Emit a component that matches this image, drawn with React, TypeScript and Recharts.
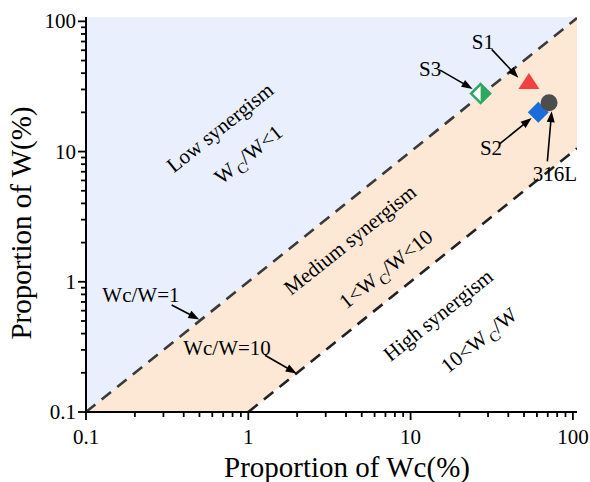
import React from 'react';
import { ComposedChart, XAxis, YAxis, Line, Area, Scatter, ReferenceLine } from 'recharts';

const FONT = '"Liberation Serif", "Times New Roman", Times, serif';

// axis ranges and ticks
const xDomain: [number, number] = [0.1, 106];
const yDomain: [number, number] = [0.1, 108];
const majorTicks = [0.1, 1, 10, 100];
const logTicks = [
  0.1, 0.2, 0.3, 0.4, 0.5, 0.6, 0.7, 0.8, 0.9,
  1, 2, 3, 4, 5, 6, 7, 8, 9,
  10, 20, 30, 40, 50, 60, 70, 80, 90,
  100,
];
const tickLabels: Record<number, string> = { 0.1: '0.1', 1: '1', 10: '10', 100: '100' };

// region boundaries (Wc/W = 1 and Wc/W = 10)
const lowBand = [
  { x: 0.1, lo: 0.1, hi: 108 },
  { x: 106, lo: 106, hi: 108 },
];
const mediumBand = [
  { x: 0.1, lo: 0.1, hi: 0.1 },
  { x: 1, lo: 0.1, hi: 1 },
  { x: 106, lo: 10.6, hi: 106 },
];
const ratio1Line = [
  { x: 0.1, y: 0.1 },
  { x: 106, y: 106 },
];
const ratio10Line = [
  { x: 1, y: 0.1 },
  { x: 106, y: 10.6 },
];

// samples
const sampleNames = ['S1', 'S2', 'S3', '316L'];
const wcValues = [53.6, 61.2, 27.0, 71.3];
const wValues = [34.5, 20.0, 27.9, 23.7];
const samples = sampleNames.map((name, i) => ({ name, x: wcValues[i], y: wValues[i] }));

// annotation labels and arrows (data coordinates)
const annotationTexts = ['S1', 'S3', 'S2', '316L', 'Wc/W=1', 'Wc/W=10'];
const annotationTextX = [27.9, 13.2, 31.3, 77.6, 0.218, 0.739];
const annotationTextY = [68.9, 42.7, 10.7, 6.76, 0.791, 0.309];
const arrowFromX = [31.6, 15.2, 35.5, 69.6, 0.337, 1.267];
const arrowFromY = [60.9, 42.2, 11.5, 8.4, 0.663, 0.273];
const arrowToX = [46.1, 24.1, 55.7, 74.0, 0.499, 1.987];
const arrowToY = [36.9, 30.3, 18.1, 20.4, 0.514, 0.1975];

// region captions
const regionCaptions = [
  { x: 0.67, y: 15.3, kind: 'plain', text: 'Low synergism' },
  { x: 1.0, y: 9.5, kind: 'ratio', pre: 'W', post: '/W<1' },
  { x: 4.24, y: 2.1, kind: 'plain', text: 'Medium synergism' },
  { x: 7.05, y: 1.25, kind: 'ratio', pre: '1<W', post: '/W<10' },
  { x: 14.8, y: 0.555, kind: 'plain', text: 'High synergism' },
  { x: 26.4, y: 0.356, kind: 'ratio', pre: '10<W', post: '/W' },
];

const annotationLabels = annotationTexts.map((t, i) => ({
  x: annotationTextX[i],
  y: annotationTextY[i],
  kind: 'label',
  text: t,
}));
const textItems = [...regionCaptions, ...annotationLabels];

const ANGLE = -38.67;

const TextShape = (props: any) => {
  const { cx, cy, payload } = props;
  if (cx == null || cy == null) return <g />;
  if (payload.kind === 'label') {
    return (
      <text x={cx} y={cy + 7} textAnchor="middle" fontFamily={FONT} fontSize={21} fill="#000">
        {payload.text}
      </text>
    );
  }
  if (payload.kind === 'plain') {
    return (
      <text
        x={cx}
        y={cy + 7}
        textAnchor="middle"
        fontFamily={FONT}
        fontSize={21}
        fill="#000"
        transform={`rotate(${ANGLE}, ${cx}, ${cy})`}
      >
        {payload.text}
      </text>
    );
  }
  return (
    <text
      x={cx}
      y={cy + 7}
      textAnchor="middle"
      fontFamily={FONT}
      fontSize={21}
      fill="#000"
      transform={`rotate(${ANGLE}, ${cx}, ${cy})`}
    >
      <tspan>{payload.pre}</tspan>
      <tspan fontSize={15} dx={2} dy={5}>C</tspan>
      <tspan dy={-5}>{payload.post}</tspan>
    </text>
  );
};

const MarkerShape = (props: any) => {
  const { cx, cy, payload } = props;
  if (cx == null || cy == null) return <g />;
  switch (payload.name) {
    case 'S1':
      return (
        <polygon
          points={`${cx},${cy - 8.5} ${cx + 10.5},${cy + 7.5} ${cx - 10.5},${cy + 7.5}`}
          fill="#F23F42"
        />
      );
    case 'S2':
      return (
        <polygon
          points={`${cx},${cy - 10.5} ${cx + 10.5},${cy} ${cx},${cy + 10.5} ${cx - 10.5},${cy}`}
          fill="#1A6CD9"
        />
      );
    case 'S3':
      return (
        <g>
          <polygon
            points={`${cx},${cy - 9.5} ${cx + 9.5},${cy} ${cx},${cy + 9.5} ${cx - 9.5},${cy}`}
            fill="#fff"
            stroke="#2BA862"
            strokeWidth={2.5}
          />
          <polygon points={`${cx},${cy - 9.5} ${cx + 9.5},${cy} ${cx},${cy + 9.5}`} fill="#2BA862" />
        </g>
      );
    default:
      return <circle cx={cx} cy={cy} r={8.5} fill="#4D4D4D" />;
  }
};

const ArrowShape = (props: any) => {
  const { x1, y1, x2, y2 } = props;
  if ([x1, y1, x2, y2].some((v) => v == null || isNaN(v))) return <g />;
  const dx = x2 - x1;
  const dy = y2 - y1;
  const len = Math.hypot(dx, dy) || 1;
  const ux = dx / len;
  const uy = dy / len;
  const hl = 11;
  const hw = 4;
  const bx = x2 - ux * hl;
  const by = y2 - uy * hl;
  return (
    <g>
      <line x1={x1} y1={y1} x2={bx + ux * 2} y2={by + uy * 2} stroke="#000" strokeWidth={1.6} />
      <polygon
        points={`${x2},${y2} ${bx - uy * hw},${by + ux * hw} ${bx + uy * hw},${by - ux * hw}`}
        fill="#000"
      />
    </g>
  );
};

const makeTick = (side: 'bottom' | 'left' | 'top' | 'right') => (props: any) => {
  const { x, y, payload } = props;
  const v = payload.value;
  const isMajor = majorTicks.some((m) => Math.abs(m - v) < 1e-9);
  const len = isMajor ? 8 : 5;
  const sw = 1.8;
  if (side === 'bottom') {
    return (
      <g>
        <line x1={x} y1={y} x2={x} y2={y + len} stroke="#000" strokeWidth={sw} />
        {isMajor && (
          <text x={x} y={y + 32} textAnchor="middle" fontFamily={FONT} fontSize={21} fill="#000">
            {tickLabels[v]}
          </text>
        )}
      </g>
    );
  }
  if (side === 'left') {
    return (
      <g>
        <line x1={x} y1={y} x2={x - len} y2={y} stroke="#000" strokeWidth={sw} />
        {isMajor && (
          <text x={x - 10} y={y + 7} textAnchor="end" fontFamily={FONT} fontSize={21} fill="#000">
            {tickLabels[v]}
          </text>
        )}
      </g>
    );
  }
  if (side === 'top') {
    return <line x1={x} y1={y} x2={x} y2={y + len} stroke="#000" strokeWidth={sw} />;
  }
  return <line x1={x} y1={y} x2={x - len} y2={y} stroke="#000" strokeWidth={sw} />;
};

const XTitle = () => (
  <text x={347} y={477} textAnchor="middle" fontFamily={FONT} fontSize={29} fill="#000">
    Proportion of Wc(%)
  </text>
);

const YTitle = () => {
  const cx = 31;
  const cy = 223;
  return (
    <text
      x={cx}
      y={cy}
      textAnchor="middle"
      fontFamily={FONT}
      fontSize={29}
      fill="#000"
      transform={`rotate(-90, ${cx}, ${cy})`}
    >
      Proportion of W(%)
    </text>
  );
};

export default function App() {
  return (
    <div style={{ position: 'absolute', left: 0, top: 0, width: 590, height: 482, background: '#fff' }}>
      <ComposedChart width={590} height={482} margin={{ top: 17, right: 13, bottom: 0, left: 0 }}>
        <XAxis
          xAxisId={0}
          dataKey="x"
          type="number"
          scale="log"
          domain={xDomain}
          allowDataOverflow
          ticks={logTicks}
          interval={0}
          tickSize={0}
          tickMargin={0}
          tickLine={false}
          height={70}
          axisLine={{ stroke: '#000', strokeWidth: 2 }}
          tick={makeTick('bottom')}
          label={{ content: XTitle } as any}
        />
        <XAxis
          xAxisId="top"
          orientation="top"
          dataKey="x"
          type="number"
          scale="log"
          domain={xDomain}
          allowDataOverflow
          ticks={logTicks}
          interval={0}
          mirror
          tickSize={0}
          tickMargin={0}
          tickLine={false}
          height={0}
          axisLine={{ stroke: '#000', strokeWidth: 2 }}
          tick={makeTick('top')}
        />
        <YAxis
          yAxisId={0}
          type="number"
          scale="log"
          domain={yDomain}
          allowDataOverflow
          ticks={logTicks}
          interval={0}
          tickSize={0}
          tickMargin={0}
          tickLine={false}
          width={86}
          axisLine={{ stroke: '#000', strokeWidth: 2 }}
          tick={makeTick('left')}
          label={{ content: YTitle } as any}
        />
        <YAxis
          yAxisId="right"
          orientation="right"
          type="number"
          scale="log"
          domain={yDomain}
          allowDataOverflow
          ticks={logTicks}
          interval={0}
          mirror
          tickSize={0}
          tickMargin={0}
          tickLine={false}
          width={0}
          axisLine={{ stroke: '#000', strokeWidth: 2 }}
          tick={makeTick('right')}
        />
        <Area
          data={lowBand}
          dataKey={(d: any) => [d.lo, d.hi]}
          type="linear"
          stroke="none"
          fill="#E9EFFC"
          fillOpacity={1}
          isAnimationActive={false}
          dot={false}
          activeDot={false}
        />
        <Area
          data={mediumBand}
          dataKey={(d: any) => [d.lo, d.hi]}
          type="linear"
          stroke="none"
          fill="#FDE8D6"
          fillOpacity={1}
          isAnimationActive={false}
          dot={false}
          activeDot={false}
        />
        <Line
          data={ratio1Line}
          dataKey="y"
          type="linear"
          stroke="#3A3A3A"
          strokeWidth={2.6}
          strokeDasharray="12 8"
          dot={false}
          activeDot={false}
          isAnimationActive={false}
        />
        <Line
          data={ratio10Line}
          dataKey="y"
          type="linear"
          stroke="#222"
          strokeWidth={2.6}
          strokeDasharray="12 8"
          dot={false}
          activeDot={false}
          isAnimationActive={false}
        />
        {annotationTexts.map((t, i) => (
          <ReferenceLine
            key={t}
            segment={[
              { x: arrowFromX[i], y: arrowFromY[i] },
              { x: arrowToX[i], y: arrowToY[i] },
            ]}
            ifOverflow="visible"
            shape={ArrowShape}
          />
        ))}
        <Scatter data={samples} dataKey="y" shape={MarkerShape} isAnimationActive={false} />
        <Scatter data={textItems} dataKey="y" shape={TextShape} isAnimationActive={false} />
      </ComposedChart>
    </div>
  );
}
